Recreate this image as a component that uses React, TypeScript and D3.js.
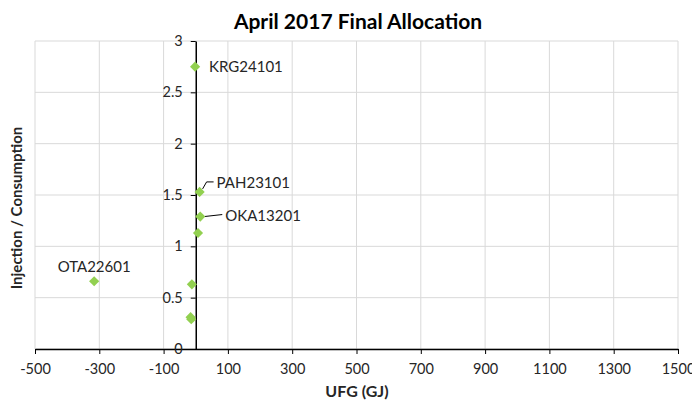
import React, { useEffect, useRef } from 'react';
import * as d3 from 'd3';

// ==================== DATA ====================
const pointNames = ['KRG24101', 'PAH23101', 'OKA13201', '', '', '', '', 'OTA22601'];
const ufgValues = [-2, 12, 14, 7, -12, -16, -14, -316];
const ratioValues = [2.75, 1.53, 1.29, 1.13, 0.63, 0.31, 0.29, 0.66];
const xTicks = [-500, -300, -100, 100, 300, 500, 700, 900, 1100, 1300, 1500];
const yTicks = [0, 0.5, 1, 1.5, 2, 2.5, 3];

const FONT = "Lato, 'Liberation Sans', sans-serif";

const App = () => {
    const svgRef = useRef<SVGSVGElement | null>(null);

    useEffect(() => {
        const svg = d3.select(svgRef.current);
        svg.selectAll('*').remove();

        const W = 692, H = 402;
        const m = { left: 35, right: 14, top: 41, bottom: 53 };

        const x = d3.scaleLinear().domain([-500, 1500]).range([m.left, W - m.right]);
        const y = d3.scaleLinear().domain([0, 3]).range([H - m.bottom, m.top]);

        svg.append('rect').attr('width', W).attr('height', H).attr('fill', '#fff');

        // gridlines
        svg.append('g').selectAll('line')
            .data(xTicks).enter().append('line')
            .attr('x1', d => x(d)).attr('x2', d => x(d))
            .attr('y1', y(0)).attr('y2', y(3))
            .attr('stroke', '#d9d9d9').attr('stroke-width', 1);
        svg.append('g').selectAll('line')
            .data(yTicks).enter().append('line')
            .attr('x1', x(-500)).attr('x2', x(1500))
            .attr('y1', d => y(d)).attr('y2', d => y(d))
            .attr('stroke', '#d9d9d9').attr('stroke-width', 1);

        // x axis
        const xAxis = svg.append('g')
            .attr('transform', `translate(0,${y(0)})`)
            .call(d3.axisBottom(x).tickValues(xTicks).tickFormat(d => String(d)).tickSize(5).tickSizeOuter(0).tickPadding(10));
        xAxis.select('.domain').attr('stroke', '#000').attr('stroke-width', 1.3);
        xAxis.selectAll('.tick line').attr('stroke', '#000');
        xAxis.selectAll('text').attr('font-family', FONT).attr('font-size', 14.5).attr('fill', '#262626');

        // y axis at x = 0
        const yAxis = svg.append('g')
            .attr('transform', `translate(${x(0)},0)`)
            .call(d3.axisLeft(y).tickValues(yTicks).tickFormat(d => String(d)).tickSize(5).tickSizeOuter(0).tickPadding(8));
        yAxis.select('.domain').attr('stroke', '#000').attr('stroke-width', 1.5);
        yAxis.selectAll('.tick line').attr('stroke', '#000');
        yAxis.selectAll('text').attr('font-family', FONT).attr('font-size', 14.5).attr('fill', '#262626');

        // leader lines
        const lead = [
            { i: 1, pts: [[3, -3], [7, -10], [14, -10]] },
            { i: 2, pts: [[4, 0], [22, -2]] },
        ];
        lead.forEach(l => {
            const px = x(ufgValues[l.i]), py = y(ratioValues[l.i]);
            svg.append('path')
                .attr('d', d3.line()(l.pts.map(p => [px + p[0], py + p[1]]) as [number, number][]))
                .attr('fill', 'none').attr('stroke', '#000').attr('stroke-width', 1);
        });

        // markers
        svg.append('g').selectAll('path')
            .data(ufgValues.map((v, i) => ({ v, r: ratioValues[i] })))
            .enter().append('path')
            .attr('transform', d => `translate(${x(d.v)},${y(d.r)}) rotate(45)`)
            .attr('d', 'M-3.6,-3.6H3.6V3.6H-3.6Z')
            .attr('fill', '#92d050');

        // point labels
        const labelOffsets: Record<string, [number, number, string]> = {
            KRG24101: [14, 0, 'start'],
            PAH23101: [17, -9, 'start'],
            OKA13201: [25, -1, 'start'],
            OTA22601: [0, -14, 'middle'],
        };
        pointNames.forEach((n, i) => {
            if (!n) return;
            const o = labelOffsets[n];
            svg.append('text')
                .attr('x', x(ufgValues[i]) + o[0])
                .attr('y', y(ratioValues[i]) + o[1])
                .attr('dy', '0.35em')
                .attr('text-anchor', o[2])
                .attr('font-family', FONT).attr('font-size', 15).attr('fill', '#262626')
                .text(n);
        });

        // titles
        svg.append('text')
            .attr('x', 358).attr('y', 29)
            .attr('text-anchor', 'middle')
            .attr('font-family', FONT).attr('font-size', 21).attr('font-weight', 'bold').attr('fill', '#000')
            .text('April 2017 Final Allocation');
        svg.append('text')
            .attr('x', 357).attr('y', 397)
            .attr('text-anchor', 'middle')
            .attr('font-family', FONT).attr('font-size', 16).attr('font-weight', 'bold').attr('fill', '#262626')
            .text('UFG (GJ)');
        svg.append('text')
            .attr('transform', `translate(22,208) rotate(-90)`)
            .attr('text-anchor', 'middle')
            .attr('font-family', FONT).attr('font-size', 15).attr('font-weight', 'bold').attr('fill', '#262626')
            .text('Injection / Consumption');
    }, []);

    return (
        <svg ref={svgRef} width={692} height={402}
            style={{ position: 'absolute', left: 0, top: 0, display: 'block' }} />
    );
};

export default App;
